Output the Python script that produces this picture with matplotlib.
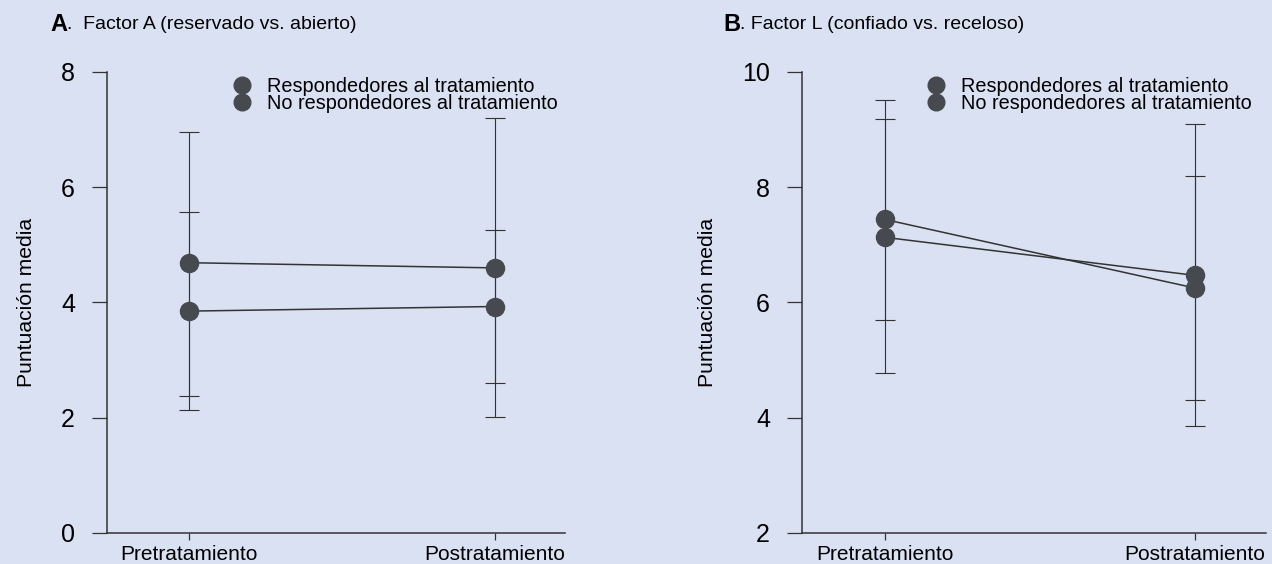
import matplotlib.pyplot as plt
from matplotlib.lines import Line2D

# datos
momentos = ['Pretratamiento', 'Postratamiento']
series = ['Respondedores al tratamiento', 'No respondedores al tratamiento']

# Factor A
a_resp = [4.69, 4.60]
a_resp_inf = [2.38, 2.02]
a_resp_sup = [6.96, 7.20]
a_noresp = [3.85, 3.93]
a_noresp_inf = [2.13, 2.61]
a_noresp_sup = [5.57, 5.25]

# Factor L
l_resp = [7.44, 6.25]
l_resp_inf = [5.69, 4.30]
l_resp_sup = [9.18, 8.19]
l_noresp = [7.13, 6.47]
l_noresp_inf = [4.77, 3.85]
l_noresp_sup = [9.51, 9.10]

fondo = '#d9e1f2'
gris = '#46494e'
linea = '#333333'

plt.rcParams['font.family'] = ['Liberation Sans', 'DejaVu Sans']

fig = plt.figure(figsize=(12.72, 5.64), dpi=100)
fig.patch.set_facecolor(fondo)


def panel(ax, datos, yticks, ylim, leyenda_x):
    x = list(range(len(momentos)))
    for medias, inf, sup in datos:
        err = [[m - i for m, i in zip(medias, inf)],
               [s - m for m, s in zip(medias, sup)]]
        ax.errorbar(x, medias, yerr=err, fmt='none', ecolor=linea,
                    elinewidth=0.8, capsize=7, capthick=0.8, zorder=2)
        ax.plot(x, medias, color=linea, lw=1.1, zorder=3)
        ax.plot(x, medias, 'o', color=gris, ms=13, zorder=4)
    ax.set_facecolor(fondo)
    ax.set_xlim(-0.268, 1.229)
    ax.set_ylim(*ylim)
    ax.set_yticks(yticks)
    ax.set_xticks(x)
    ax.set_xticklabels(momentos, fontsize=15)
    ax.tick_params(axis='y', length=11, width=0.9, pad=12, labelsize=18,
                   color=linea)
    ax.tick_params(axis='x', length=5, width=0.9, pad=4, color=linea)
    for lado in ['top', 'right']:
        ax.spines[lado].set_visible(False)
    for lado in ['left', 'bottom']:
        ax.spines[lado].set_color(linea)
        ax.spines[lado].set_linewidth(1.1)
    ax.set_ylabel('Puntuación media', fontsize=15.2, labelpad=18)
    handles = [Line2D([], [], marker='o', ls='none', color=gris, ms=12)
               for _ in series]
    ax.legend(handles, series, loc='upper left',
              bbox_to_anchor=(leyenda_x, 1.011),
              frameon=False, fontsize=14.3, handlelength=0.6,
              handletextpad=0.95, labelspacing=-0.1, borderpad=0)


ax1 = fig.add_axes([0.0841, 0.055, 0.3601, 0.8174])
panel(ax1, [(a_resp, a_resp_inf, a_resp_sup),
            (a_noresp, a_noresp_inf, a_noresp_sup)], [0, 2, 4, 6, 8], (0, 8),
      0.261)

ax2 = fig.add_axes([0.6305, 0.055, 0.3648, 0.8174])
panel(ax2, [(l_resp, l_resp_inf, l_resp_sup),
            (l_noresp, l_noresp_inf, l_noresp_sup)], [2, 4, 6, 8, 10],
      (2, 10), 0.255)

# titulos de los paneles
fig.text(0.040, 0.957, 'A', fontsize=17, fontweight='bold', va='center')
fig.text(0.053, 0.957, '.  Factor A (reservado vs. abierto)', fontsize=14,
         va='center')
fig.text(0.569, 0.957, 'B', fontsize=17, fontweight='bold', va='center')
fig.text(0.582, 0.957, '. Factor L (confiado vs. receloso)', fontsize=14,
         va='center')

fig.savefig('out.png', dpi=100, facecolor=fondo)
